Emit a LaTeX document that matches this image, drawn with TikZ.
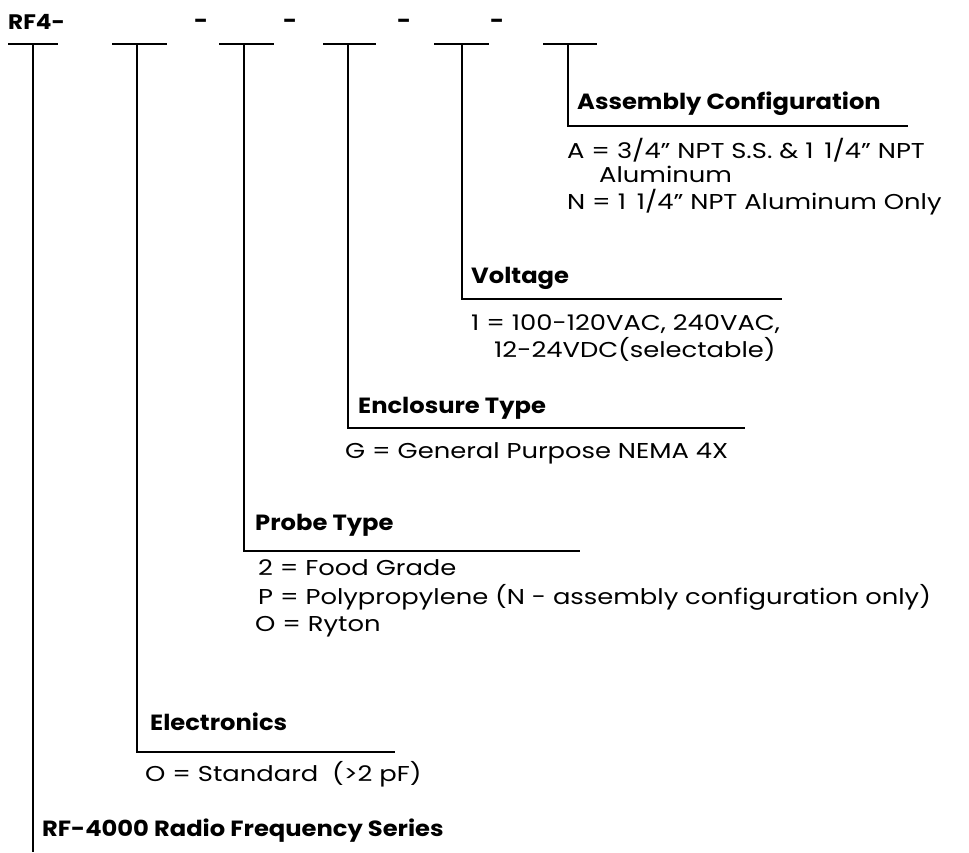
\documentclass[tikz,border=0pt]{standalone}
\usepackage{fontspec}
\setmainfont{Poppins}[FakeStretch=1.2,BoldFeatures={FakeStretch=1.1}]
\newcommand{\qt}{\symbol{34}}
\newcommand{\oneq}{1\kern4pt\ 1/4\qt}
\begin{document}
\begin{tikzpicture}[x=1pt,y=-1pt,
  ln/.style={line width=2pt},
  hd/.style={anchor=base west,inner sep=0pt,font=\fontsize{22}{22}\selectfont\bfseries},
  tx/.style={anchor=base west,inner sep=0pt,font=\fontsize{21.5}{22}\selectfont}]
\useasboundingbox (0,0) rectangle (969,852);
% top code
\node[hd,font=\fontsize{21}{21}\selectfont\bfseries] (rf) at (8,29) {RF4-};
\node[hd] (d1) at (194,28) {-};
\node[hd] (d2) at (283,28) {-};
\node[hd] (d3) at (397,28) {-};
\node[hd] (d4) at (490,28) {-};
% bars
\foreach \i/\a/\b/\c in {1/8/58/33, 2/112/167/137, 3/219/274/244, 4/323/376/348, 5/434/489/462, 6/543/597/568}{
  \coordinate (bl\i) at (\a,44);
  \coordinate (br\i) at (\b,44);
  \coordinate (bm\i) at (\c,44);
  \draw[ln] (bl\i) -- (br\i);
}
% ends
\coordinate (e1) at (33,852);
\coordinate (e2) at (395,752);
\coordinate (e3) at (580,551);
\coordinate (e4) at (745,428);
\coordinate (e5) at (782,299);
\coordinate (e6) at (908,126);
\draw[ln] (bm1) -- (e1);
\foreach \i in {2,...,6}{\draw[ln] (bm\i) |- (e\i);}
% assembly
\node[hd] (h6) at (577,109) {Assembly Configuration};
\node[tx] (a6) at (567,158) {A = 3/4\qt{} NPT S.S. \& \oneq{} NPT};
\node[tx] (a6b) at (599,182) {Aluminum};
\node[tx] (n6) at (567,209) {N = \oneq{} NPT Aluminum Only};
% voltage
\node[hd] (h5) at (471,283) {Voltage};
\node[tx] (v1) at (471,330) {1 = 100-120VAC, 240VAC,};
\node[tx] (v2) at (494,357) {12-24VDC(selectable)};
% enclosure
\node[hd] (h4) at (358,413) {Enclosure Type};
\node[tx] (g4) at (345,458) {G = General Purpose NEMA 4X};
% probe
\node[hd] (h3) at (255,530) {Probe Type};
\node[tx] (p1) at (258,575) {2 = Food Grade};
\node[tx] (p2) at (258,604) {P = Polypropylene (N - assembly configuration only)};
\node[tx] (p3) at (255,631) {O = Ryton};
% electronics
\node[hd] (h2) at (150,730) {Electronics};
\node[tx] (o2) at (145,781) {O = Standard\ \ (>2 pF)};
% series
\node[hd] (h1) at (42,836) {RF-4000 Radio Frequency Series};
\end{tikzpicture}
\end{document}
